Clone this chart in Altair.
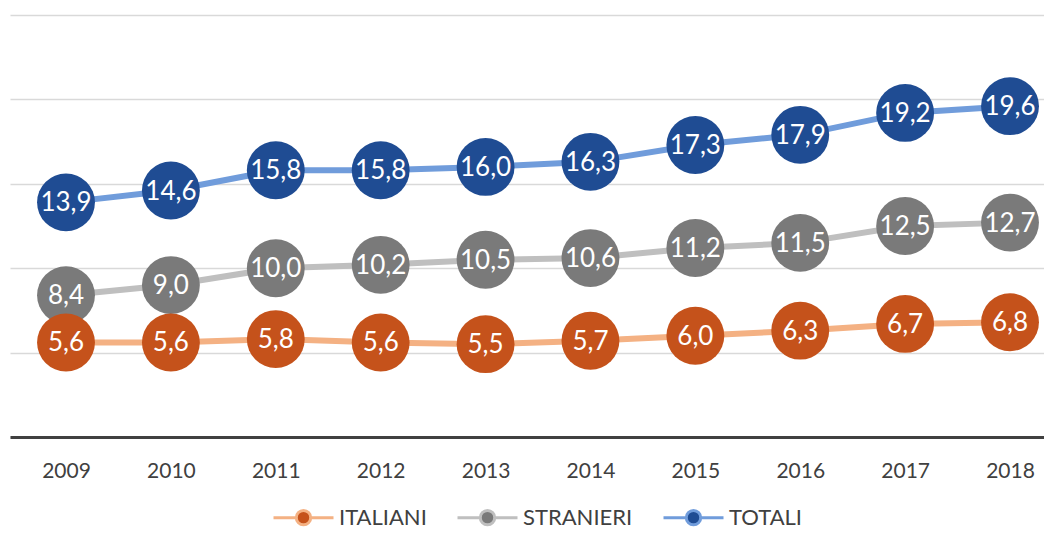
import altair as alt
import pandas as pd

years = [2009, 2010, 2011, 2012, 2013, 2014, 2015, 2016, 2017, 2018]
italiani = [5.6, 5.6, 5.8, 5.6, 5.5, 5.7, 6.0, 6.3, 6.7, 6.8]
stranieri = [8.4, 9.0, 10.0, 10.2, 10.5, 10.6, 11.2, 11.5, 12.5, 12.7]
totali = [13.9, 14.6, 15.8, 15.8, 16.0, 16.3, 17.3, 17.9, 19.2, 19.6]
series = ["ITALIANI", "STRANIERI", "TOTALI"]
line_colors = ["#F4B183", "#BFBFBF", "#709CDB"]
dot_colors = ["#C5521B", "#7A7A7A", "#1F4C93"]

rows = []
# draw order: TOTALI first, ITALIANI last (on top)
for name, vals in [("TOTALI", totali), ("STRANIERI", stranieri), ("ITALIANI", italiani)]:
    for y, v in zip(years, vals):
        rows.append({"anno": y, "serie": name, "valore": v,
                     "etichetta": f"{v:.1f}".replace(".", ",")})
df = pd.DataFrame(rows)

FONT = "Lato"
TXT = "#404040"

legend = alt.Legend(
    title=None, orient="none", direction="horizontal",
    legendX=262, legendY=471,
    symbolType="M-1,0H-0.24M0.24,0H1M0.24,0A0.24,0.24 0 1,1 -0.24,0A0.24,0.24 0 1,1 0.24,0Z",
    symbolSize=3600, symbolStrokeWidth=3,
    labelFont=FONT, labelFontSize=22, labelColor=TXT, labelOffset=4,
    columnPadding=24,
)

x = alt.X("anno:Q",
          scale=alt.Scale(domain=[2008.466, 2018.324], nice=False, zero=False),
          axis=alt.Axis(values=years, format="d", title=None, grid=False, ticks=False,
                        domainColor="#404040", domainWidth=3, labelFont=FONT,
                        labelFontSize=21, labelColor=TXT, labelPadding=23,
                        labelFlush=False))
y = alt.Y("valore:Q",
          scale=alt.Scale(domain=[0, 25], nice=False),
          axis=alt.Axis(values=[0, 5, 10, 15, 20, 25], title=None, labels=False,
                        ticks=False, domain=False, gridColor="#D9D9D9", gridWidth=1.3))

base = alt.Chart(df)

lines = base.mark_line(strokeWidth=6).encode(
    x=x, y=y,
    stroke=alt.Stroke("serie:N", scale=alt.Scale(domain=series, range=line_colors), legend=legend),
    detail="serie:N",
)

dots = base.mark_circle(size=3350, opacity=1).encode(
    x=x, y=y,
    fill=alt.Fill("serie:N", scale=alt.Scale(domain=series, range=dot_colors), legend=legend),
)

labels = base.mark_text(color="white", font=FONT, fontSize=26, align="center",
                        baseline="middle", dy=1).encode(
    x=x, y=y, text="etichetta:N",
)

chart = alt.layer(lines, dots, labels).properties(
    width=1034, height=422,
    padding={"left": 2, "top": 7, "right": 0, "bottom": 95},
    autosize=alt.AutoSizeParams(type="none"),
    background="white",
).configure_view(strokeWidth=0, stroke="transparent")

chart.save("out.html", embed_options={"renderer": "svg", "actions": False})
